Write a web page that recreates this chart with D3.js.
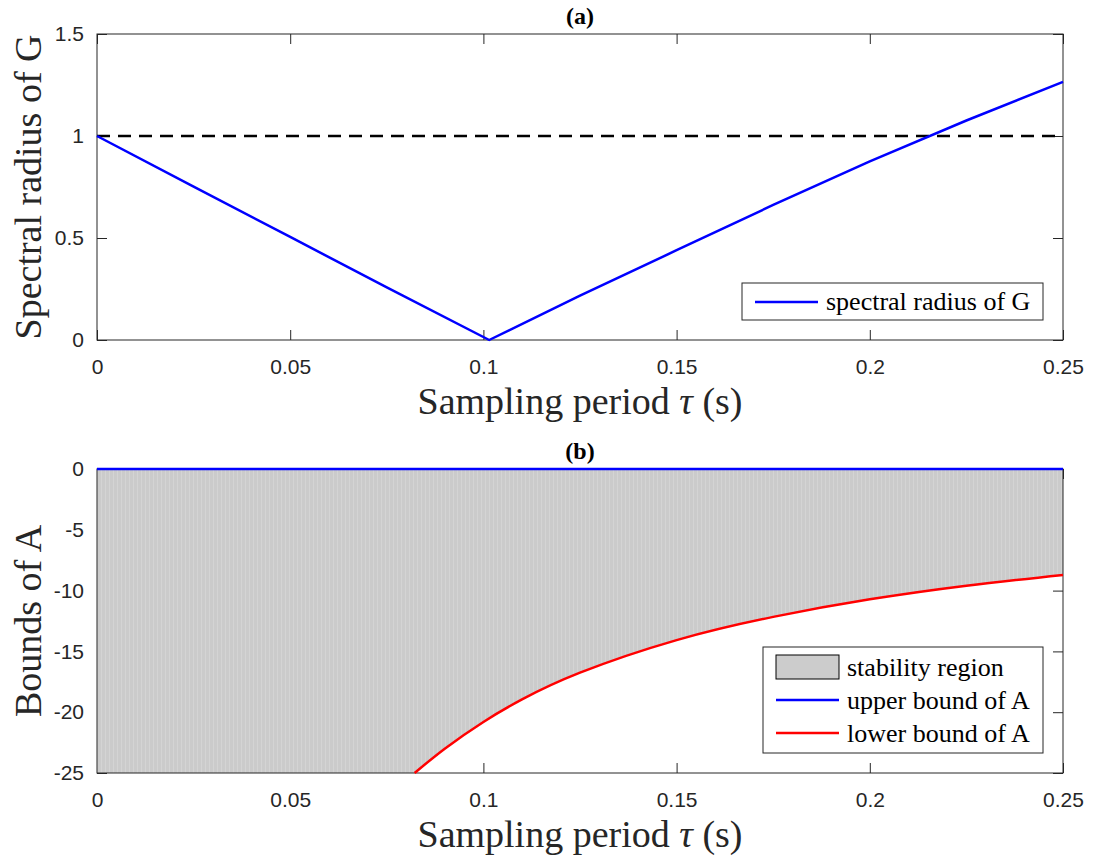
<!DOCTYPE html>
<html>
<head>
<meta charset="utf-8">
<script src="https://cdn.jsdelivr.net/npm/d3@7"></script>
<style>
  body { margin: 0; background: #fff; }
  .tick text { font-family: "Liberation Sans", Arial, sans-serif; font-size: 21px; fill: #262626; }
  .tick line { stroke: #262626; }
  .serif { font-family: "Liberation Serif", "Times New Roman", serif; fill: #262626; }
</style>
</head>
<body>
<div id="chart"></div>
<script>
// (a) spectral radius of G against sampling period
const tauA = [0, 0.025, 0.05, 0.075, 0.1015, 0.125, 0.15, 0.175, 0.2, 0.225, 0.25];
const rhoA = [1, 0.752, 0.505, 0.258, 0, 0.217, 0.44, 0.662, 0.876, 1.076, 1.265];
const threshold = 1;

// (b) bounds of A against sampling period
const tauB = [0.0822, 0.09, 0.1, 0.11, 0.125, 0.15, 0.175, 0.2, 0.225, 0.25];
const lowerB = [-25, -23.0, -20.8, -18.95, -16.75, -14.07, -12.16, -10.72, -9.6, -8.71];
const upperB = 0;

const xTicks = [0, 0.05, 0.1, 0.15, 0.2, 0.25];
const yTicksA = [0, 0.5, 1, 1.5];
const yTicksB = [0, -5, -10, -15, -20, -25];

const W = 1093, H = 865;
const left = 97, right = 1063;
const panelA = { top: 34, bottom: 340 };
const panelB = { top: 469, bottom: 773 };

const svg = d3.select("#chart").append("svg")
  .attr("width", W).attr("height", H)
  .style("background", "#fff");

// stripe pattern for the stability region
const defs = svg.append("defs");
const pat = defs.append("pattern")
  .attr("id", "stripes")
  .attr("patternUnits", "userSpaceOnUse")
  .attr("width", 4).attr("height", 10);
pat.append("rect").attr("width", 4).attr("height", 10).attr("fill", "#cbcbcb");
pat.append("rect").attr("x", 1).attr("width", 1).attr("height", 10).attr("fill", "#d4d4d4");

const x = d3.scaleLinear().domain([0, 0.25]).range([left, right]);
const fmt = d => String(d);

function drawTicks(g, y, yTicks, top, bottom) {
  g.append("g").attr("transform", `translate(0,${bottom})`)
    .call(d3.axisBottom(x).tickValues(xTicks).tickSizeInner(-10).tickSizeOuter(0).tickPadding(19).tickFormat(fmt))
    .call(a => a.select(".domain").remove())
    .attr("font-family", null).attr("font-size", null);
  g.append("g").attr("transform", `translate(0,${top})`)
    .call(d3.axisTop(x).tickValues(xTicks).tickSizeInner(-10).tickSizeOuter(0).tickFormat(""))
    .call(a => a.select(".domain").remove());
  g.append("g").attr("transform", `translate(${left},0)`)
    .call(d3.axisLeft(y).tickValues(yTicks).tickSizeInner(-10).tickSizeOuter(0).tickPadding(13).tickFormat(fmt))
    .call(a => a.select(".domain").remove())
    .attr("font-family", null).attr("font-size", null);
  g.append("g").attr("transform", `translate(${right},0)`)
    .call(d3.axisRight(y).tickValues(yTicks).tickSizeInner(-10).tickSizeOuter(0).tickFormat(""))
    .call(a => a.select(".domain").remove());
}

function drawBox(g, top, bottom) {
  g.append("rect")
    .attr("x", left).attr("y", top)
    .attr("width", right - left).attr("height", bottom - top)
    .attr("fill", "none").attr("stroke", "#262626").attr("stroke-width", 1);
}

function labels(g, title, ylab, top, bottom) {
  g.append("text").attr("class", "serif")
    .attr("x", (left + right) / 2).attr("y", top - 10)
    .attr("text-anchor", "middle").style("font-size", "24px").style("font-weight", "bold")
    .style("fill", "#000")
    .text(title);
  g.append("text").attr("class", "serif")
    .attr("x", (left + right) / 2).attr("y", bottom + 74)
    .attr("text-anchor", "middle").style("font-size", "38px")
    .call(t => {
      t.append("tspan").text("Sampling period ");
      t.append("tspan").style("font-style", "italic").text("τ");
      t.append("tspan").text(" (s)");
    });
  g.append("text").attr("class", "serif")
    .attr("transform", `translate(41,${(top + bottom) / 2}) rotate(-90)`)
    .attr("text-anchor", "middle").style("font-size", "38px")
    .text(ylab);
}

// ---------- panel (a) ----------
const yA = d3.scaleLinear().domain([0, 1.5]).range([panelA.bottom, panelA.top]);
const gA = svg.append("g");
drawTicks(gA, yA, yTicksA, panelA.top, panelA.bottom);
drawBox(gA, panelA.top, panelA.bottom);

gA.append("line")
  .attr("x1", x(0)).attr("x2", x(0.25))
  .attr("y1", yA(threshold)).attr("y2", yA(threshold))
  .attr("stroke", "#000").attr("stroke-width", 2.5).attr("stroke-dasharray", "13,8");

const lineA = d3.line().x((d, i) => x(tauA[i])).y(d => yA(d));
gA.append("path")
  .attr("d", lineA(rhoA))
  .attr("fill", "none").attr("stroke", "#0000ff").attr("stroke-width", 2.5)
  .attr("stroke-linejoin", "round");

labels(gA, "(a)", "Spectral radius of G", panelA.top, panelA.bottom);

// legend (a)
const legA = gA.append("g").attr("transform", "translate(742,283)");
legA.append("rect").attr("width", 301).attr("height", 37)
  .attr("fill", "#fff").attr("stroke", "#262626").attr("stroke-width", 1);
legA.append("line").attr("x1", 13).attr("x2", 76).attr("y1", 19).attr("y2", 19)
  .attr("stroke", "#0000ff").attr("stroke-width", 2.5);
legA.append("text").attr("class", "serif").attr("x", 84).attr("y", 27)
  .style("font-size", "26px").style("fill", "#000").text("spectral radius of G");

// ---------- panel (b) ----------
const yB = d3.scaleLinear().domain([-25, 0]).range([panelB.bottom, panelB.top]);
const gB = svg.append("g");
drawTicks(gB, yB, yTicksB, panelB.top, panelB.bottom);

// stability region: full band left of the lower curve, area above it
gB.append("rect")
  .attr("x", x(0)).attr("y", yB(upperB))
  .attr("width", x(tauB[0]) - x(0) + 0.5).attr("height", yB(-25) - yB(upperB))
  .attr("fill", "url(#stripes)");
const areaB = d3.area()
  .x((d, i) => x(tauB[i]))
  .y0(d => yB(d)).y1(yB(upperB))
  .curve(d3.curveNatural);
gB.append("path").attr("d", areaB(lowerB)).attr("fill", "url(#stripes)");

drawBox(gB, panelB.top, panelB.bottom);

gB.append("line")
  .attr("x1", x(0)).attr("x2", x(0.25))
  .attr("y1", yB(upperB)).attr("y2", yB(upperB))
  .attr("stroke", "#0000ff").attr("stroke-width", 2.5);

const lineB = d3.line().x((d, i) => x(tauB[i])).y(d => yB(d)).curve(d3.curveNatural);
gB.append("path")
  .attr("d", lineB(lowerB))
  .attr("fill", "none").attr("stroke", "#ff0000").attr("stroke-width", 2.5);

labels(gB, "(b)", "Bounds of A", panelB.top, panelB.bottom);

// legend (b)
const legB = gB.append("g").attr("transform", "translate(763,647)");
legB.append("rect").attr("width", 280).attr("height", 106)
  .attr("fill", "#fff").attr("stroke", "#262626").attr("stroke-width", 1);
legB.append("rect").attr("x", 13).attr("y", 8).attr("width", 63).attr("height", 24)
  .attr("fill", "#cccccc").attr("stroke", "#000").attr("stroke-width", 1);
const legItems = [
  { label: "stability region" },
  { label: "upper bound of A", color: "#0000ff" },
  { label: "lower bound of A", color: "#ff0000" }
];
legItems.forEach((d, i) => {
  const cy = 20 + i * 33;
  if (d.color) {
    legB.append("line").attr("x1", 13).attr("x2", 76).attr("y1", cy).attr("y2", cy)
      .attr("stroke", d.color).attr("stroke-width", 2.5);
  }
  legB.append("text").attr("class", "serif").attr("x", 84).attr("y", cy + 9)
    .style("font-size", "26px").style("fill", "#000").text(d.label);
});
</script>
</body>
</html>
